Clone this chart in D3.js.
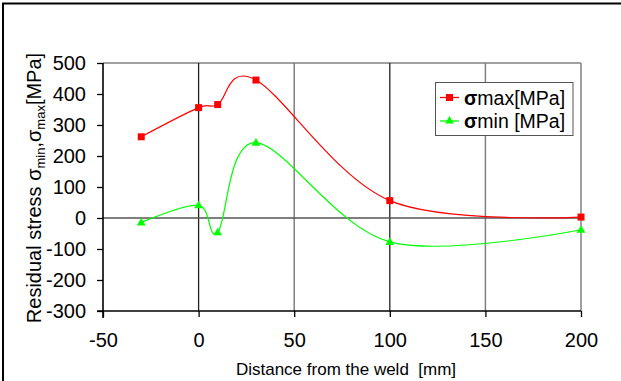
<!DOCTYPE html>
<html><head><meta charset="utf-8">
<script src="https://cdn.jsdelivr.net/npm/d3@7"></script>
<style>
html,body{margin:0;padding:0;background:#fff;}
svg text{font-family:"Liberation Sans",Arial,sans-serif;fill:#000;}
</style></head>
<body>
<svg id="c" width="621" height="381"></svg>
<script>
const distances = [-30, 0, 10, 30, 100, 200];
const sigmaMax = [262, 356, 366, 445, 56, 3];
const sigmaMin = [-14, 41, -46, 243, -77, -38];
const xTicks = [-50, 0, 50, 100, 150, 200];
const yTicks = [500, 400, 300, 200, 100, 0, -100, -200, -300];
const seriesNames = ["max[MPa]", "min [MPa]"];

const svg = d3.select("#c");
const L = 103, R = 581, T = 63, B = 311;
const x = d3.scaleLinear().domain([-50, 200]).range([L, R]);
const y = d3.scaleLinear().domain([-300, 500]).range([B, T]);

// outer frame (cropped)
svg.append("path").attr("d", `M3,381 V3.5 H621`).attr("fill", "none").attr("stroke", "#000").attr("stroke-width", 2);

// grid lines
const g = svg.append("g");
g.append("line").attr("x1", L).attr("x2", R).attr("y1", y(500)).attr("y2", y(500)).attr("stroke", "#808080").attr("stroke-width", 1.5);
xTicks.filter(d => d > -50).forEach(d => {
  const dark = (d === 0 || d === 100);
  g.append("line").attr("x1", x(d)).attr("x2", x(d)).attr("y1", T).attr("y2", B)
    .attr("stroke", dark ? "#222" : "#808080").attr("stroke-width", dark ? 1.3 : 1.5);
});
g.append("line").attr("x1", L).attr("x2", R).attr("y1", y(0)).attr("y2", y(0)).attr("stroke", "#555").attr("stroke-width", 1.6);

// axes
const fmt = d => String(d);
const yAxis = d3.axisLeft(y).tickValues(yTicks).tickFormat(fmt).tickSize(6).tickPadding(11);
const ay = svg.append("g").attr("transform", `translate(${L},0)`).call(yAxis);
const xAxis = d3.axisBottom(x).tickValues(xTicks).tickFormat(fmt).tickSize(6).tickPadding(16);
const ax = svg.append("g").attr("transform", `translate(0,${B})`).call(xAxis);
[ay, ax].forEach(a => {
  a.select(".domain").attr("stroke", "#000").attr("stroke-width", 1.6);
  a.selectAll(".tick line").attr("stroke", "#000").attr("stroke-width", 1.3);
  a.selectAll("text").attr("font-size", 20).attr("font-family", "Liberation Sans, Arial, sans-serif").attr("fill", "#000");
});
ay.select(".domain").attr("d", `M0,${B + 7}V${T}`);
ax.select(".domain").attr("d", `M${L - 6},0H${R}`);

// series lines
const line = d3.line().x(d => x(d[0])).y(d => y(d[1])).curve(d3.curveCardinal.tension(0));
const dMax = distances.map((d, i) => [d, sigmaMax[i]]);
const dMin = distances.map((d, i) => [d, sigmaMin[i]]);
svg.append("path").datum(dMax).attr("d", line).attr("fill", "none").attr("stroke", "#ff0000").attr("stroke-width", 1.2);
svg.append("path").datum(dMin).attr("d", line).attr("fill", "none").attr("stroke", "#00ff00").attr("stroke-width", 1.2);

svg.selectAll(".sq").data(dMax).enter().append("rect")
  .attr("x", d => x(d[0]) - 3.5).attr("y", d => y(d[1]) - 3.5).attr("width", 7).attr("height", 7).attr("fill", "#ff0000");
const tri = d3.symbol().type(d3.symbolTriangle).size(34);
svg.selectAll(".tr").data(dMin).enter().append("path")
  .attr("d", tri).attr("transform", d => `translate(${x(d[0])},${y(d[1]) + 0.5})`).attr("fill", "#00ff00");

// legend
const lg = svg.append("g");
lg.append("rect").attr("x", 435.5).attr("y", 82.5).attr("width", 137.5).attr("height", 53).attr("fill", "#fff").attr("stroke", "#555").attr("stroke-width", 1);
const colors = ["#ff0000", "#00ff00"];
[0, 1].forEach(i => {
  const cy = 97.5 + i * 23.5;
  lg.append("line").attr("x1", 440).attr("x2", 459).attr("y1", cy).attr("y2", cy).attr("stroke", colors[i]).attr("stroke-width", 1.3);
  if (i === 0) lg.append("rect").attr("x", 446).attr("y", cy - 3.5).attr("width", 7).attr("height", 7).attr("fill", colors[i]);
  else lg.append("path").attr("d", tri).attr("transform", `translate(449.5,${cy})`).attr("fill", colors[i]);
  const t = lg.append("text").attr("x", 464).attr("y", cy + 7).attr("font-size", 19.5);
  t.append("tspan").attr("font-weight", "bold").text("σ");
  t.append("tspan").text(seriesNames[i]);
});

// axis titles
svg.append("text").attr("x", 346).attr("y", 375).attr("text-anchor", "middle").attr("font-size", 17)
  .style("white-space", "pre").text("Distance from the weld  [mm]");

const yt = svg.append("text").attr("transform", `translate(41,188) rotate(-90)`).attr("text-anchor", "middle").attr("font-size", 20);
yt.append("tspan").text("Residual stress σ");
yt.append("tspan").attr("font-size", 13).attr("dy", 4).text("min");
yt.append("tspan").attr("dy", -4).text(",σ");
yt.append("tspan").attr("font-size", 13).attr("dy", 4).text("max");
yt.append("tspan").attr("dy", -4).text("[MPa]");
</script>
</body></html>
